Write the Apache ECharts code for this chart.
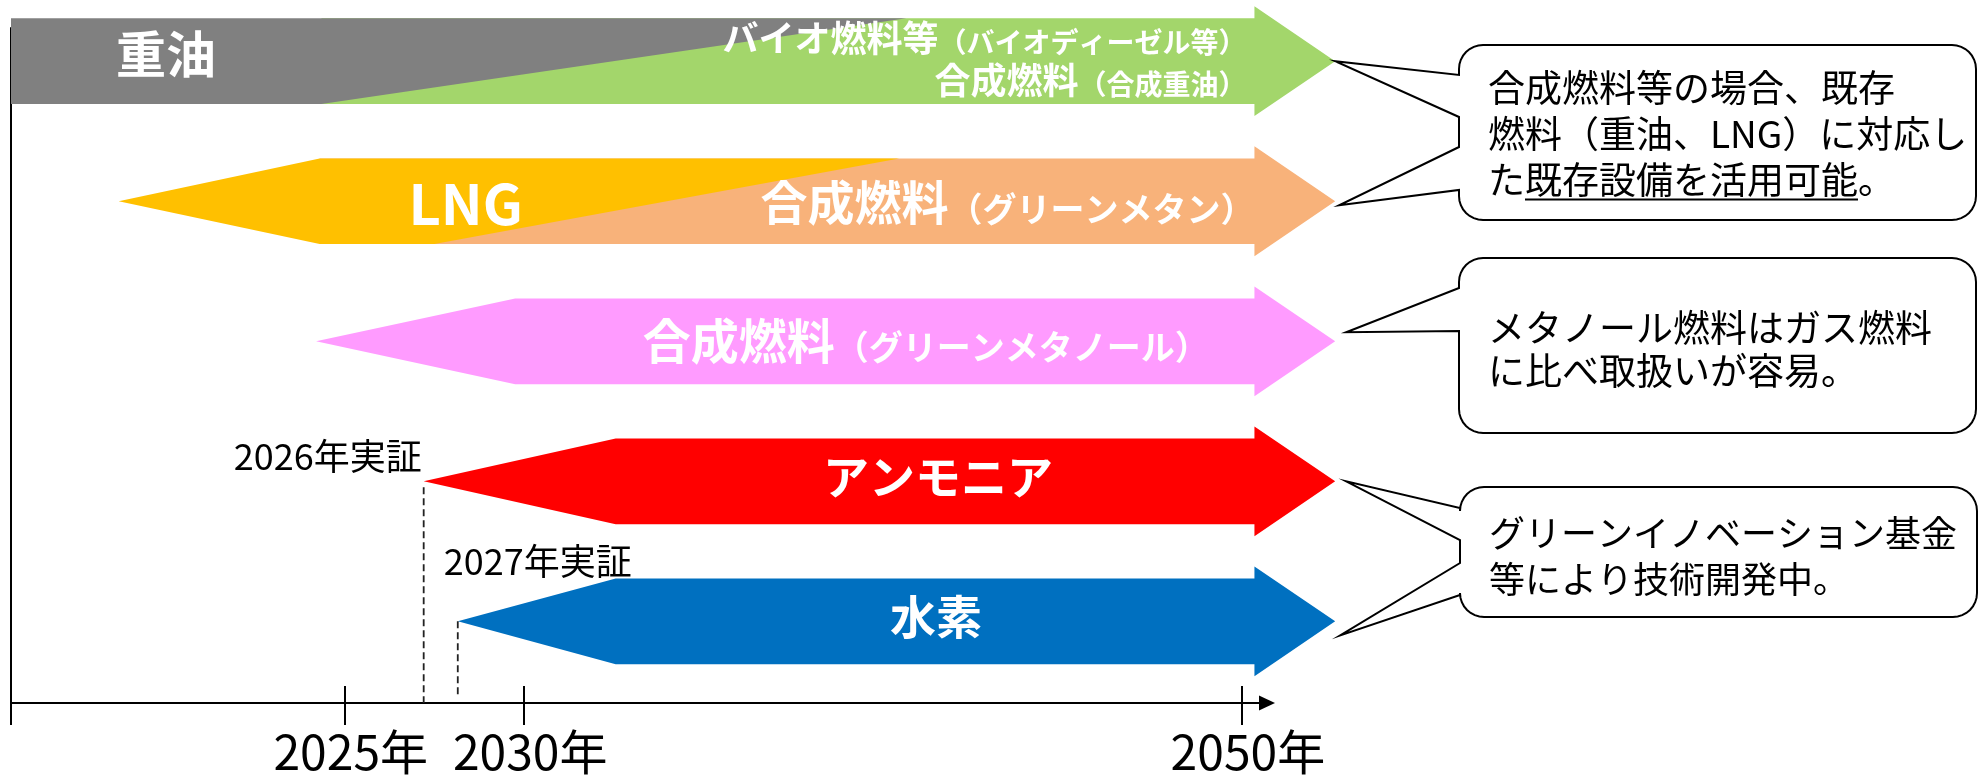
<!DOCTYPE html>
<html><head><meta charset="utf-8">
<script src="https://cdn.jsdelivr.net/npm/echarts@6/dist/echarts.min.js"></script>
<style>html,body{margin:0;padding:0;background:#fff}#c{width:1982px;height:776px}</style>
</head><body><div id="c"></div>
<script>
// ---------------- data ----------------
const AXIS_YEARS = [2025, 2030, 2050];

// existing fuels (fade out)
const FOSSIL_FUELS = ['重油', 'LNG'];
const FOSSIL_ROW = [4, 3];
const FOSSIL_START = [2015.7, 2018.7];        // left end / tip
const FOSSIL_FULL = [2015.7, 2024.3];         // full width reached
const FOSSIL_SHIFT_BEGIN = [2024.35, 2027.5]; // replacement begins
const FOSSIL_SHIFT_END = [2040.65, 2040.45];  // replacement complete

// new fuels
const NEW_FUELS = ['バイオ燃料等・合成燃料', '合成燃料（グリーンメタン）', '合成燃料（グリーンメタノール）', 'アンモニア', '水素'];
const NEW_FUEL_TEXT = [
  [['バイオ燃料等', '（バイオディーゼル等）'], ['合成燃料', '（合成重油）']],
  [['合成燃料', '（グリーンメタン）']],
  [['合成燃料', '（グリーンメタノール）']],
  [['アンモニア', '']],
  [['水素', '']]
];
const NEW_ROW = [4, 3, 2, 1, 0];
const NEW_START = [2024.35, 2024.3, 2024.2, 2027.2, 2028.15];
const NEW_FULL = [2024.35, 2024.3, 2029.75, 2032.55, 2032.55];
const NEW_HEAD = 2050.35;
const NEW_END = 2052.6;

// demonstrations
const DEMOS = ['2026年実証', '2027年実証'];
const DEMO_FUEL = [3, 4];

// notes
const NOTES = [
  '合成燃料等の場合、既存\n燃料（重油、LNG）に対応し\nた既存設備を活用可能。',
  'メタノール燃料はガス燃料\nに比べ取扱いが容易。',
  'グリーンイノベーション基金\n等により技術開発中。'
];
const NOTE_TARGETS = [[0, 1], [2], [3, 4]];
const NOTE_UNDERLINE = ['既存設備を活用可能', '', ''];

// ---------------- styling / layout ----------------
const FONT = "'Noto Sans CJK JP', 'Noto Sans', sans-serif";
const X_MIN = 2015.7, X_MAX = 2050.7;
const Y_MIN = -0.583, Y_MAX = 4.237;
const BH = 0.306, HH = 0.392;
const NEW_COLORS = ['#A3D66B', '#F8B27A', '#FF9BFF', '#FF0000', '#0070C0'];
const FOSSIL_COLORS = ['#808080', '#FFC000'];
const FOSSIL_LABEL = [{dx: 155, dy: -7, size: 50}, {dx: 146, dy: 2, size: 56}];
const NEW_LABEL = [
  {align: 'right', dx: -8, lines: [-23, 19], main: 36, sub: 28},
  {align: 'right', dx: 0, lines: [1], main: 47, sub: 34},
  {align: 'center', dx: 41, lines: [-1], main: 48, sub: 34},
  {align: 'center', dx: 3, lines: [-5], main: 46, sub: 31},
  {align: 'center', dx: 1, lines: [-5], main: 46, sub: 31}
];
const DEMO_LAYOUT = [
  {lx: -2, ly: -25, align: 'right', top: 6, bottom: 0},
  {lx: -14, ly: -60, align: 'left', top: 0, bottom: -8}
];
const NOTE_LAYOUT = [
  {box: [1459, 45, 1976, 220], lh: 46, top: 64.5, font: 37, wedges: [{y1: 75, y2: 117, dx: 0, dy: 0}, {y1: 147, y2: 190, dx: 4, dy: 4}]},
  {box: [1459, 258, 1976, 433], lh: 43, top: 306, font: 37, wedges: [{y1: 288, y2: 331, dx: 11, dy: -9}]},
  {box: [1460, 487, 1977, 617], lh: 46, top: 510, font: 36, wedges: [{y1: 508, y2: 540, dx: 11, dy: 0}, {y1: 563, y2: 595, dx: 5, dy: 14}]}
];
const NOTE_LEFT = 29;

const measureCtx = document.createElement('canvas').getContext('2d');
function textWidth(t, size) { measureCtx.font = size + 'px ' + FONT; return measureCtx.measureText(t).width; }

function renderNew(params, api) {
  const row = api.value(2), start = api.value(0), full = api.value(1);
  const P = (x, d) => api.coord([x, row + d]);
  return {
    type: 'polygon',
    shape: {points: [P(start, 0), P(full, BH), P(NEW_HEAD, BH), P(NEW_HEAD, HH), P(NEW_END, 0),
                     P(NEW_HEAD, -HH), P(NEW_HEAD, -BH), P(full, -BH)]},
    style: {fill: NEW_COLORS[params.dataIndex]}
  };
}
function renderFossil(params, api) {
  const row = api.value(4);
  const P = (x, d) => api.coord([x, row + d]);
  return {
    type: 'polygon',
    shape: {points: [P(api.value(0), 0), P(api.value(1), BH), P(api.value(3), BH), P(api.value(2), -BH), P(api.value(1), -BH)]},
    style: {fill: FOSSIL_COLORS[params.dataIndex]}
  };
}
function renderFossilLabel(params, api) {
  const i = params.dataIndex, L = FOSSIL_LABEL[i];
  const p = api.coord([api.value(0), api.value(1)]);
  return {
    type: 'text',
    style: {x: p[0] + L.dx, y: p[1] + L.dy, text: FOSSIL_FUELS[i], fill: '#fff',
            fontSize: L.size, fontWeight: 'bold', fontFamily: FONT, align: 'center', verticalAlign: 'middle'}
  };
}
function renderNewLabel(params, api) {
  const i = params.dataIndex, L = NEW_LABEL[i];
  const row = api.value(2);
  const full = api.coord([api.value(1), row]);
  const head = api.coord([NEW_HEAD, row]);
  const x = L.align === 'right' ? head[0] + L.dx : (full[0] + head[0]) / 2 + L.dx;
  const children = NEW_FUEL_TEXT[i].map((parts, k) => ({
    type: 'text',
    style: {
      x: x, y: head[1] + L.lines[k],
      text: '{m|' + parts[0] + '}' + (parts[1] ? '{s|' + parts[1] + '}' : ''),
      align: L.align, verticalAlign: 'middle', fill: '#fff', fontFamily: FONT,
      rich: {
        m: {fontSize: L.main, lineHeight: L.main, fontWeight: 'bold', fontFamily: FONT, fill: '#fff', verticalAlign: 'bottom'},
        s: {fontSize: L.sub, lineHeight: L.sub, fontWeight: 'bold', fontFamily: FONT, fill: '#fff', verticalAlign: 'bottom'}
      }
    }
  }));
  return {type: 'group', children};
}
function renderDemo(params, api) {
  const i = params.dataIndex, L = DEMO_LAYOUT[i];
  const tip = api.coord([api.value(0), api.value(1)]);
  const base = api.coord([api.value(0), Y_MIN]);
  return {
    type: 'group',
    children: [
      {type: 'line', shape: {x1: tip[0], y1: tip[1] + L.top, x2: tip[0], y2: base[1] + L.bottom},
       style: {stroke: '#222', lineWidth: 1.8, lineDash: [7, 4]}},
      {type: 'text', style: {x: tip[0] + L.lx, y: tip[1] + L.ly, text: DEMOS[i], fill: '#000',
        fontSize: 36, fontFamily: FONT, align: L.align, verticalAlign: 'middle'}}
    ]
  };
}
function calloutPoints(Lx, T, R, B, r, wedges) {
  const pts = [];
  const arc = (cx, cy, a0, a1) => { for (let k = 0; k <= 8; k++) { const a = a0 + (a1 - a0) * k / 8; pts.push([cx + r * Math.cos(a), cy + r * Math.sin(a)]); } };
  arc(Lx + r, T + r, Math.PI, 1.5 * Math.PI);
  arc(R - r, T + r, 1.5 * Math.PI, 2 * Math.PI);
  arc(R - r, B - r, 0, 0.5 * Math.PI);
  arc(Lx + r, B - r, 0.5 * Math.PI, Math.PI);
  wedges.slice().sort((a, b) => b.y2 - a.y2).forEach(w => { pts.push([Lx, w.y2], [w.ax, w.ay], [Lx, w.y1]); });
  return pts;
}
function renderNote(params, api) {
  const i = params.dataIndex, L = NOTE_LAYOUT[i];
  const [bl, bt, br, bb] = L.box;
  const wedges = NOTE_TARGETS[i].map((f, k) => {
    const tip = api.coord([NEW_END, NEW_ROW[f]]);
    const w = L.wedges[k];
    return {y1: w.y1, y2: w.y2, ax: tip[0] + w.dx, ay: tip[1] + w.dy};
  });
  const tx = bl + NOTE_LEFT;
  const children = [
    {type: 'polygon', shape: {points: calloutPoints(bl, bt, br, bb, 24, wedges)},
     style: {fill: '#fff', stroke: '#000', lineWidth: 2, lineJoin: 'miter'}},
    {type: 'text', style: {x: tx, y: L.top, text: NOTES[i], fill: '#000', fontSize: L.font,
      fontFamily: FONT, align: 'left', verticalAlign: 'top', lineHeight: L.lh}}
  ];
  if (NOTE_UNDERLINE[i]) {
    const lines = NOTES[i].split('\n');
    const li = lines.findIndex(s => s.indexOf(NOTE_UNDERLINE[i]) >= 0);
    const pre = lines[li].slice(0, lines[li].indexOf(NOTE_UNDERLINE[i]));
    const x1 = tx + textWidth(pre, L.font);
    const x2 = x1 + textWidth(NOTE_UNDERLINE[i], L.font);
    const y = L.top + L.lh * li + L.lh / 2 + 20;
    children.push({type: 'line', shape: {x1, y1: y, x2, y2: y}, style: {stroke: '#000', lineWidth: 2}});
  }
  return {type: 'group', children};
}

const newData = NEW_FUELS.map((n, i) => [NEW_START[i], NEW_FULL[i], NEW_ROW[i]]);
const fossilData = FOSSIL_FUELS.map((n, i) => [FOSSIL_START[i], FOSSIL_FULL[i], FOSSIL_SHIFT_BEGIN[i], FOSSIL_SHIFT_END[i], FOSSIL_ROW[i]]);
const fossilLabelData = FOSSIL_FUELS.map((n, i) => [FOSSIL_FULL[i], FOSSIL_ROW[i]]);
const demoData = DEMOS.map((n, i) => [NEW_START[DEMO_FUEL[i]], NEW_ROW[DEMO_FUEL[i]]]);
const noteData = NOTES.map((n, i) => [i, 0]);

const chart = echarts.init(document.getElementById('c'));
const gridBox = {left: 11, right: 715, top: 28, bottom: 71};
chart.setOption({
  animation: false,
  backgroundColor: '#fff',
  grid: [Object.assign({}, gridBox), Object.assign({}, gridBox)],
  xAxis: [
    {type: 'value', gridIndex: 0, min: X_MIN, max: X_MAX,
     axisLine: {show: true, onZero: false, symbol: ['none', 'triangle'], symbolSize: [15, 16], lineStyle: {color: '#000', width: 2}},
     axisTick: {show: true, customValues: [X_MIN].concat(AXIS_YEARS), length: 22, lineStyle: {color: '#000', width: 2}},
     axisLabel: {show: true, customValues: AXIS_YEARS, formatter: v => v + '年', fontSize: 48, fontFamily: FONT, color: '#000', margin: 25, padding: [0, 0, 0, 12]},
     splitLine: {show: false}},
    {type: 'value', gridIndex: 1, min: X_MIN, max: X_MAX,
     axisLine: {show: false, onZero: false},
     axisTick: {show: true, inside: true, customValues: AXIS_YEARS, length: 19, lineStyle: {color: '#000', width: 2}},
     axisLabel: {show: false}, splitLine: {show: false}}
  ],
  yAxis: [
    {type: 'value', gridIndex: 0, min: Y_MIN, max: Y_MAX,
     axisLine: {show: true, onZero: false, lineStyle: {color: '#000', width: 2}},
     axisTick: {show: false}, axisLabel: {show: false}, splitLine: {show: false}},
    {type: 'value', gridIndex: 1, min: Y_MIN, max: Y_MAX, show: false}
  ],
  series: [
    {type: 'custom', name: 'new', xAxisIndex: 0, yAxisIndex: 0, renderItem: renderNew, data: newData, clip: false, silent: true},
    {type: 'custom', name: 'fossil', xAxisIndex: 0, yAxisIndex: 0, renderItem: renderFossil, data: fossilData, clip: false, silent: true},
    {type: 'custom', name: 'fossilLabel', xAxisIndex: 0, yAxisIndex: 0, renderItem: renderFossilLabel, data: fossilLabelData, clip: false, silent: true},
    {type: 'custom', name: 'newLabel', xAxisIndex: 0, yAxisIndex: 0, renderItem: renderNewLabel, data: newData, clip: false, silent: true},
    {type: 'custom', name: 'demo', xAxisIndex: 0, yAxisIndex: 0, renderItem: renderDemo, data: demoData, clip: false, silent: true},
    {type: 'custom', name: 'notes', xAxisIndex: 0, yAxisIndex: 0, renderItem: renderNote, data: noteData, clip: false, silent: true}
  ]
});
</script></body></html>
